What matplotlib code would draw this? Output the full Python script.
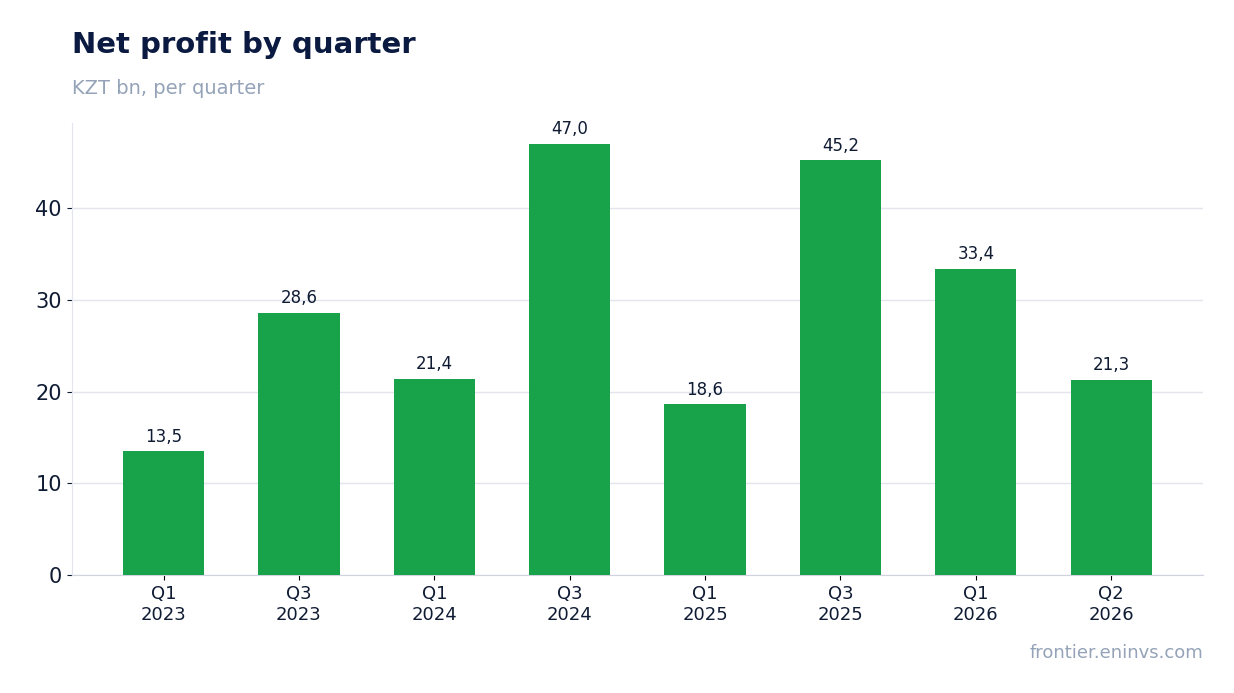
import matplotlib.pyplot as plt

quarters = ["Q1\n2023", "Q3\n2023", "Q1\n2024", "Q3\n2024", "Q1\n2025", "Q3\n2025", "Q1\n2026", "Q2\n2026"]
profit = [13.5, 28.6, 21.4, 47.0, 18.6, 45.2, 33.4, 21.3]

fig = plt.figure(figsize=(12.34, 6.93), dpi=100)
ax = fig.add_axes([0.058, 0.17, 0.917, 0.653])

x = range(len(quarters))
bars = ax.bar(x, profit, width=0.6, color="#18a34a", zorder=3)
for b, v in zip(bars, profit):
    ax.text(b.get_x() + b.get_width() / 2, v + 0.6, f"{v:.1f}".replace(".", ","),
            ha="center", va="bottom", fontsize=12, color="#0f1b33")

ax.set_xticks(list(x))
ax.set_xticklabels(quarters, fontsize=13, color="#0f1b33")
ax.set_yticks([0, 10, 20, 30, 40])
ax.tick_params(axis="y", labelsize=15, colors="#0f1b33")
ax.set_ylim(0, 49.3)
ax.set_xlim(-0.68, 7.68)
ax.grid(axis="y", color="#e2e5ee", linewidth=1, zorder=0)
for s in ["top", "right"]:
    ax.spines[s].set_visible(False)
ax.spines["left"].set_color("#e2e5ee")
ax.spines["bottom"].set_color("#d0d4de")

fig.text(0.058, 0.935, "Net profit by quarter", fontsize=21, fontweight="bold", color="#0b1a40", va="center")
fig.text(0.058, 0.872, "KZT bn, per quarter", fontsize=14, color="#94a3b8", va="center")
fig.text(0.975, 0.058, "frontier.eninvs.com", fontsize=13, color="#94a3b8", ha="right", va="center")

fig.savefig("out.png")
